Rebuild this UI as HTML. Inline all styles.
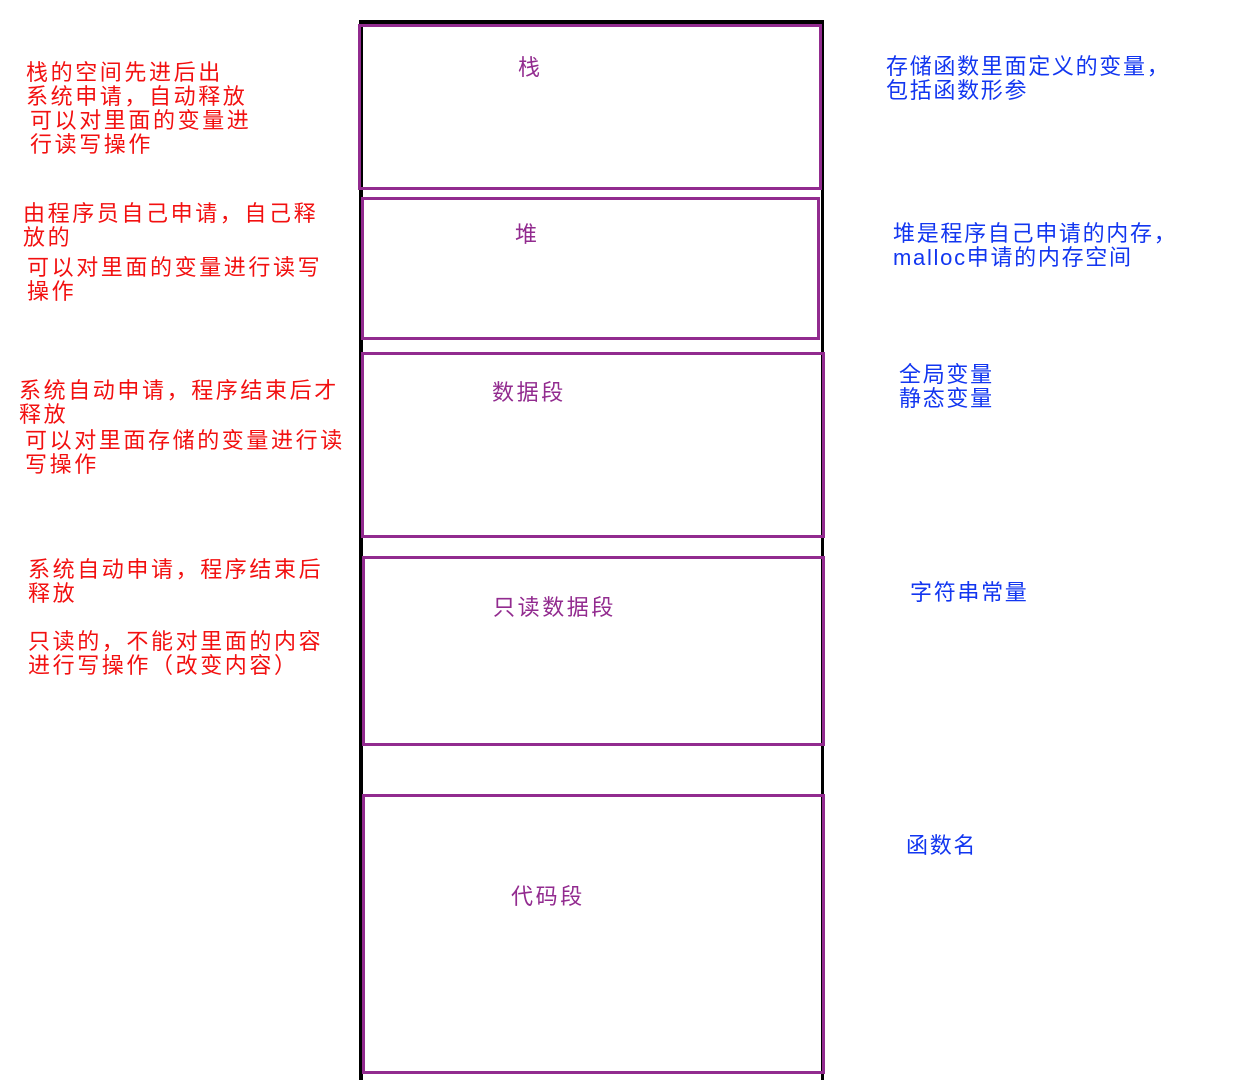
<!DOCTYPE html>
<html><head><meta charset="utf-8"><style>
body{margin:0;width:1240px;height:1076px;background:#fff;position:relative;overflow:hidden;font-family:"Liberation Sans","WenQuanYi Zen Hei","Noto Sans CJK SC",sans-serif;}
.b{position:absolute;border:3px solid #922b8f;box-sizing:border-box;}
.t{position:absolute;font-size:22px;line-height:24px;white-space:nowrap;letter-spacing:2.6px;}
.r{color:#f21010;}.u{color:#1236f0;letter-spacing:1.7px;}.p{color:#922b8f;}
.i{padding-left:4px;}
</style></head><body>
<div style="position:absolute;left:359px;top:20px;width:465px;height:1060px;border-left:4px solid #000;border-right:3px solid #000;border-top:4px solid #000;box-sizing:border-box;"></div>
<div class="b" style="left:358px;top:24px;width:464px;height:166px"></div>
<div class="b" style="left:361px;top:197px;width:459px;height:143px"></div>
<div class="b" style="left:361px;top:352px;width:464px;height:186px"></div>
<div class="b" style="left:362px;top:556px;width:463px;height:190px"></div>
<div class="b" style="left:362px;top:794px;width:463px;height:280px"></div>
<div class="t p" style="left:518px;top:56px">栈</div>
<div class="t p" style="left:515px;top:223px">堆</div>
<div class="t p" style="left:492px;top:381px">数据段</div>
<div class="t p" style="left:493px;top:596px">只读数据段</div>
<div class="t p" style="left:511px;top:885px">代码段</div>
<div class="t r" style="left:26px;top:61px">栈的空间先进后出<br>系统申请，自动释放<div class="i">可以对里面的变量进<br>行读写操作</div></div>
<div class="t r" style="left:23px;top:202px">由程序员自己申请，自己释<br>放的<div class="i" style="margin-top:6px">可以对里面的变量进行读写<br>操作</div></div>
<div class="t r" style="left:19px;top:379px">系统自动申请，程序结束后才<br>释放<div class="i" style="margin-top:2px;padding-left:6px">可以对里面存储的变量进行读<br>写操作</div></div>
<div class="t r" style="left:28px;top:558px">系统自动申请，程序结束后<br>释放<br><br>只读的，不能对里面的内容<br>进行写操作（改变内容）</div>
<div class="t u" style="left:886px;top:55px">存储函数里面定义的变量，<br>包括函数形参</div>
<div class="t u" style="left:893px;top:222px">堆是程序自己申请的内存，<br>malloc申请的内存空间</div>
<div class="t u" style="left:899px;top:363px">全局变量<br>静态变量</div>
<div class="t u" style="left:910px;top:581px">字符串常量</div>
<div class="t u" style="left:906px;top:834px">函数名</div>
</body></html>
